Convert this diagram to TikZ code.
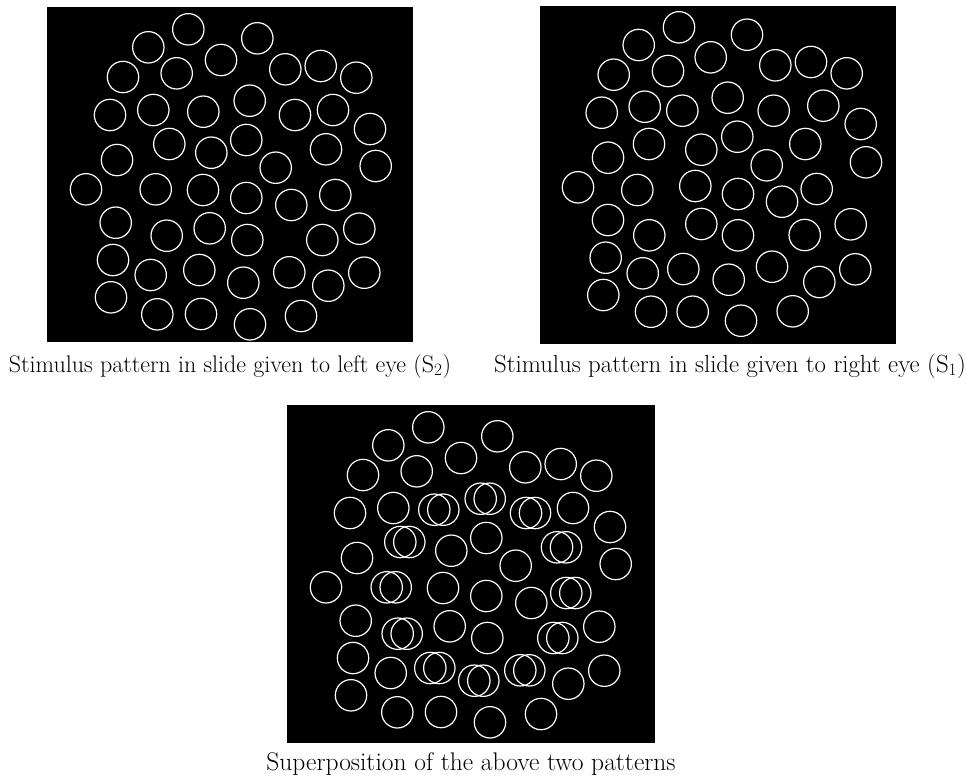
\documentclass[tikz,border=0pt]{standalone}
\begin{document}
\begin{tikzpicture}[x=1pt,y=-1pt,
  ring/.style={draw=white,line width=1.2pt},
  panel/.style={fill=black},
  captext/.style={anchor=base,inner sep=0pt}]
\useasboundingbox (0,0) rectangle (966,782);
\fill[white] (0,0) rectangle (966,782);
% panels
\fill[panel] (47,7) rectangle (413,342);
\fill[panel] (540,6) rectangle (896,344);
\fill[panel] (287,405) rectangle (655,743);
% circle positions
\def\leftpts{188.3/29.3, 148.3/47.3, 257.3/38.3, 221/60, 123/77, 176.7/73.3, 285.3/69.3, 320.7/66, 356.3/77.7,
 249.7/100.7, 110/115, 153.3/110, 203.3/111.7, 295/115, 333/110, 370/129, 169.3/144, 211.3/152.7, 246.3/140,
 326/149.3, 117/160, 275.7/167.7, 375.7/166, 86/189.3, 155.7/189.3, 203/190, 246.3/198, 291.3/205, 335.3/195,
 115.7/222.7, 166.7/235.7, 209.7/228.3, 247.3/240, 322.3/240, 359.3/228.7, 113/260, 150.7/275, 199.3/270,
 243.3/282.7, 289.3/272.3, 328.3/285.7, 364.3/272.7, 111/297.3, 157.3/314.3, 201/314, 250/324.3, 301/316}
\def\rightpts{679/27.3, 638.7/45, 747/34.7, 710.7/57.3, 613.7/74.7, 668/71, 775.3/65.3, 811/62, 846.7/73.3,
 727.7/97.7, 601.7/112.7, 644.7/106.7, 682.3/110.7, 773.7/110.7, 823.3/105.7, 860.7/124, 649/144, 701.3/149.7,
 737.3/136.7, 805.3/144, 608/157.7, 766.7/165.3, 866/162.3, 578/187.3, 637.3/190, 695.3/186, 738/194, 782/201.7,
 816.7/189, 608/220, 649.3/235.3, 701.3/224, 738/235.3, 804.7/235, 850.7/224.3, 605.7/257.7, 642.7/273.3,
 683.3/269, 728.7/279.7, 772/266.7, 819.3/282, 855.3/269.3, 603.3/295, 651/311.7, 692.7/311.7, 741/320.7, 792.7/311.3}
\def\dblpts{249.7/100.7, 203.3/111.7, 295/115, 169.3/144, 326/149.3, 155.7/189.3, 335.3/195, 166.7/235.7,
 322.3/240, 199.3/270, 243.3/282.7, 289.3/272.3}
% left eye pattern
\foreach \px/\py in \leftpts {\draw[ring] (\px,\py) circle[radius=15.7pt];}
% right eye pattern
\foreach \px/\py in \rightpts {\draw[ring] (\px,\py) circle[radius=15.7pt];}
% superposition
\begin{scope}[shift={(240,398)}]
\foreach \px/\py in \leftpts {\draw[ring] (\px,\py) circle[radius=15.7pt];}
\end{scope}
\begin{scope}[shift={(231,398)}]
\foreach \px/\py in \dblpts {\draw[ring] (\px,\py) circle[radius=15.7pt];}
\end{scope}
% captions
\node[captext,font=\fontsize{24}{28}\selectfont] (capL) at (230,372) {Stimulus pattern in slide given to left eye (S$_2$)};
\node[captext,font=\fontsize{24.8}{29}\selectfont] (capR) at (730,372) {Stimulus pattern in slide given to right eye (S$_1$)};
\node[captext,font=\fontsize{25.5}{30}\selectfont] (capB) at (471,770) {Superposition of the above two patterns};
\end{tikzpicture}
\end{document}
